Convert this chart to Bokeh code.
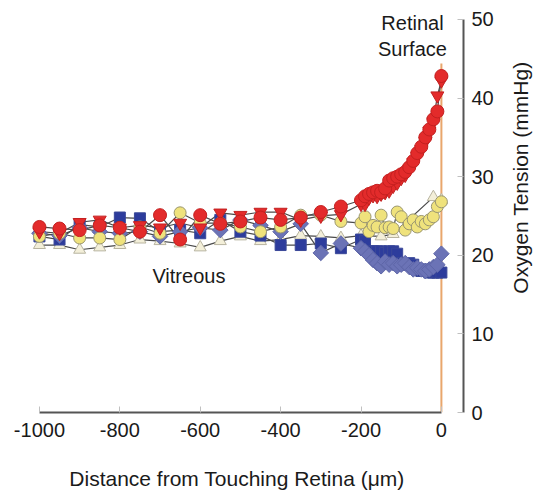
import math
from bokeh.plotting import figure
from bokeh.layouts import row
from bokeh.models import Range1d, LinearAxis, FixedTicker
from bokeh.embed import file_html
from bokeh.resources import INLINE
from bokeh.core.properties import value

# ---- data ----
x_far = [-1000, -950, -900, -850, -800, -750, -700, -650, -600, -550,
         -500, -450, -400, -350, -300, -250, -200]
x_near = [-190, -180, -170, -160, -150, -140, -130, -120, -110, -100,
          -90, -80, -70, -60, -50, -40, -30, -20, -10, 0]

red_circle_far = [23.6, 23.4, 23.2, 23.8, 23.5, 23.0, 25.1, 22.0, 25.1, 24.0,
                  24.3, 24.8, 24.5, 24.8, 25.5, 26.2, 27.0]
red_circle_near = [27.5, 27.8, 28.0, 28.2, 28.0, 28.5, 29.5, 29.8, 30.0, 30.3,
                   30.6, 31.2, 32.0, 33.0, 33.8, 35.0, 36.0, 37.3, 38.3, 42.8]

red_tri_far = [23.0, 22.8, 24.2, 24.5, 23.5, 23.8, 23.5, 24.1, 23.5, 25.4,
               25.1, 25.5, 25.5, 24.5, 25.0, 25.2, 26.5]
red_tri_near = [26.5, 27.3, 27.6, 27.5, 27.8, 28.0, 28.2, 28.8, 29.2, 29.8,
                30.2, 31.0, 31.8, 32.6, 33.5, 34.5, 35.8, 37.0, 40.3, 42.2]

blue_sq_far = [22.4, 22.0, 23.9, 23.6, 24.8, 24.7, 23.0, 23.2, 22.8, 24.5,
               23.0, 22.5, 21.3, 21.3, 21.5, 20.9, 22.0]
blue_sq_near = [21.8, 20.5, 20.5, 20.5, 20.5, 20.3, 20.5, 20.5, 20.2, 19.0,
                18.8, 19.0, 18.8, 18.2, 18.0, 18.2, 17.8, 17.8, 17.8, 17.8]

blue_dia_far = [22.8, 22.5, 23.5, 23.0, 22.8, 23.0, 22.4, 23.0, 23.5, 23.2,
                24.5, 23.8, 23.0, 24.0, 20.3, 21.5, 20.9]
blue_dia_near = [20.5, 20.0, 19.4, 19.0, 18.6, 19.2, 18.8, 19.0, 18.6, 18.8,
                 19.0, 18.5, 18.2, 18.4, 18.2, 18.0, 18.2, 18.5, 18.8, 20.2]

yellow_far = [22.4, 22.8, 22.2, 22.2, 22.0, 23.6, 22.8, 25.4, 24.1, 24.1,
              23.6, 23.0, 23.6, 25.1, 25.1, 24.3, 24.1]
yellow_near = [24.9, 23.0, 23.8, 23.6, 25.1, 23.5, 23.6, 23.4, 25.5, 24.9,
               23.2, 24.0, 24.5, 23.6, 24.3, 24.0, 24.5, 24.9, 26.2, 26.8]

cream_x = [-1000, -950, -900, -850, -800, -750, -700, -650, -600, -550,
           -500, -450, -400, -350, -300, -250, -200, -150, -120, -20, 0]
cream_tri = [21.3, 21.3, 20.7, 21.0, 21.3, 22.0, 21.8, 21.5, 21.0, 21.8,
             22.4, 21.8, 22.0, 22.5, 22.4, 22.2, 22.5, 22.4, 22.7, 27.4, 27.0]

surface_line_y = [0, 44.4]
x_ticks = [-1000, -800, -600, -400, -200, 0]
x_tick_labels = ["-1000", "-800", "-600", "-400", "-200", "0"]
y_ticks = [0, 10, 20, 30, 40, 50]
y_title = "Oxygen Tension (mmHg)"

FONT = "Liberation Sans"
TXT = "#1a1a1a"

p = figure(width=502, height=492, x_range=Range1d(-1072, 55), y_range=Range1d(0, 51.77),
           output_backend="svg", toolbar_location=None,
           x_axis_location=None, y_axis_location=None,
           min_border_left=10, min_border_right=39, min_border_top=5, min_border_bottom=77)
p.outline_line_color = None
p.xgrid.visible = False
p.ygrid.visible = False
p.background_fill_color = "white"
p.border_fill_color = "white"

xa = LinearAxis(ticker=FixedTicker(ticks=x_ticks), bounds=(-1000, 0),
                axis_label="Distance from Touching Retina (\u03bcm)",
                major_label_overrides={t: s for t, s in zip(x_ticks, x_tick_labels)})
ya = LinearAxis(ticker=FixedTicker(ticks=y_ticks), bounds=(0, 50))
for ax in (xa, ya):
    ax.axis_line_color = "#555555"
    ax.axis_line_width = 2
    ax.major_tick_in = 6
    ax.major_tick_out = 0
    ax.major_tick_line_color = "#c0c0c0"
    ax.major_tick_line_width = 1
    ax.minor_tick_line_color = None
    ax.major_label_text_font = FONT
    ax.major_label_text_font_size = "20px"
    ax.major_label_text_color = TXT
    ax.axis_label_text_font = FONT
    ax.axis_label_text_font_size = "21px"
    ax.axis_label_text_font_style = "normal"
    ax.axis_label_text_color = TXT
xa.major_label_standoff = 10
xa.axis_label_standoff = 27
ya.major_label_standoff = 8
p.add_layout(xa, "below")
p.add_layout(ya, "right")

# retinal surface line
p.line([0, 0], surface_line_y, line_color="#e9a66c", line_width=2)

series = [
    (x_far + x_near, blue_sq_far + blue_sq_near),
    (x_far + x_near, blue_dia_far + blue_dia_near),
    (cream_x, cream_tri),
    (x_far + x_near, yellow_far + yellow_near),
    (x_far + x_near, red_tri_far + red_tri_near),
    (x_far + x_near, red_circle_far + red_circle_near),
]
for xs, ys in series:
    p.line(xs, ys, line_color="#4a4a4a", line_width=1.2)

p.scatter(cream_x, cream_tri, marker="triangle", size=12,
          fill_color="#f3efd9", line_color="#b8b4a0", line_width=1)
p.scatter(x_far + x_near, blue_sq_far + blue_sq_near, marker="square", size=11,
          fill_color="#2d3c9c", line_color="#3a4898", line_width=1)
p.scatter(x_far + x_near, blue_dia_far + blue_dia_near, marker="square", size=11,
          angle=math.pi / 4, fill_color="#6b73b6", line_color="#5e66a8", line_width=1)
p.scatter(x_far + x_near, yellow_far + yellow_near, marker="circle", size=12,
          fill_color="#efe27c", line_color="#9a9670", line_width=1)
p.scatter(x_far + x_near, red_tri_far + red_tri_near, marker="inverted_triangle", size=13,
          fill_color="#e32b2b", line_color="#c42020", line_width=1)
p.scatter(x_far + x_near, red_circle_far + red_circle_near, marker="circle", size=13,
          fill_color="#e32b2b", line_color="#c42020", line_width=1)

p.text(x=[-72, -72], y=[49.6, 46.2], text=["Retinal", "Surface"],
       text_align="center", text_baseline="middle",
       text_font=value(FONT), text_font_size="20px", text_color=TXT)
p.text(x=[-719], y=[17.3], text=["Vitreous"], text_align="left", text_baseline="middle",
       text_font=value(FONT), text_font_size="20px", text_color=TXT)

# narrow side panel holding the y-axis title (reads bottom to top)
p2 = figure(width=36, height=492, x_range=Range1d(0, 36), y_range=Range1d(492, 0),
            output_backend="svg", toolbar_location=None,
            x_axis_location=None, y_axis_location=None, min_border=0)
p2.outline_line_color = None
p2.xgrid.visible = False
p2.ygrid.visible = False
p2.border_fill_color = "white"
p2.background_fill_color = "white"
p2.text(x=[18], y=[208], text=[y_title], angle=math.pi / 2,
        text_align="center", text_baseline="middle",
        text_font=value(FONT), text_font_size="21px", text_color=TXT)

layout = row(p, p2, spacing=0)
open("out.html", "w").write(file_html(layout, INLINE))
